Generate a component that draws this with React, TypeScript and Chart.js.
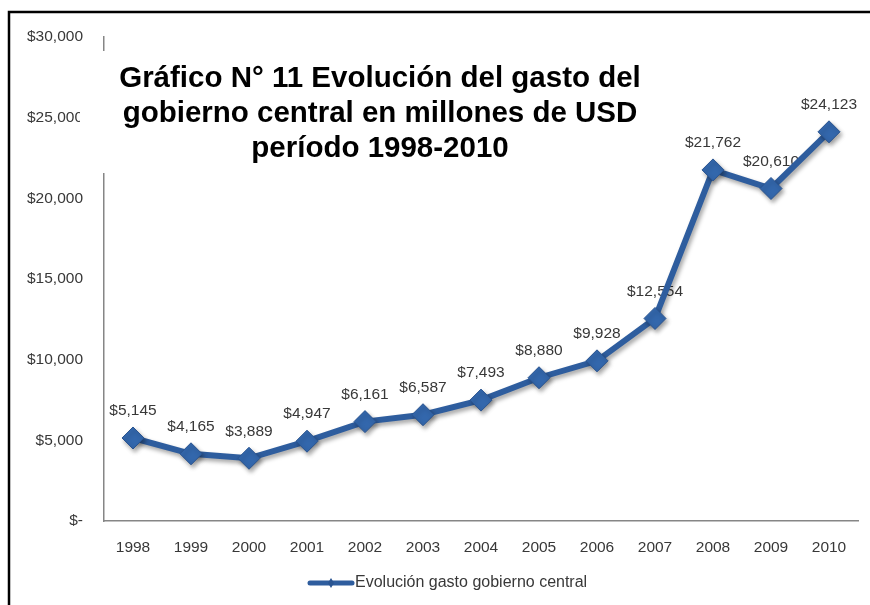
import React, { useEffect, useRef } from "react";
import { Chart, registerables } from "chart.js";

Chart.register(...registerables);

const years = ["1998", "1999", "2000", "2001", "2002", "2003", "2004", "2005", "2006", "2007", "2008", "2009", "2010"];
const gasto = [5145, 4165, 3889, 4947, 6161, 6587, 7493, 8880, 9928, 12554, 21762, 20610, 24123];
const seriesName = "Evolución gasto gobierno central";
const titleLines = ["Gráfico N° 11 Evolución del gasto del", "gobierno central en millones de USD", "período 1998-2010"];
const yMax = 30000;
const yStep = 5000;

const FONT = "'Liberation Sans', Arial, sans-serif";
const LINE = "#2E5D9E";
const TEXT = "#383838";

const fmt = (v: number) => (v === 0 ? "$-" : "$" + v.toLocaleString("en-US"));

export default function App() {
  const ref = useRef<HTMLCanvasElement | null>(null);

  useEffect(() => {
    if (!ref.current) return;

    const framePlugin = {
      id: "frame",
      beforeDraw(chart: any) {
        const ctx = chart.ctx;
        ctx.save();
        ctx.fillStyle = "#fff";
        ctx.fillRect(0, 0, chart.width, chart.height);
        ctx.strokeStyle = "#000";
        ctx.lineWidth = 2.5;
        ctx.beginPath();
        ctx.moveTo(9, 605);
        ctx.lineTo(9, 12);
        ctx.lineTo(870, 12);
        ctx.stroke();
        ctx.restore();
      },
    };

    const shadowPlugin = {
      id: "shadow",
      beforeDatasetDraw(chart: any) {
        const ctx = chart.ctx;
        ctx.save();
        ctx.shadowColor = "rgba(0,0,0,0.35)";
        ctx.shadowBlur = 4;
        ctx.shadowOffsetX = 2;
        ctx.shadowOffsetY = 3;
      },
      afterDatasetDraw(chart: any) {
        chart.ctx.restore();
      },
    };

    const labelPlugin = {
      id: "valueLabels",
      beforeDatasetsDraw(chart: any) {
        const ctx = chart.ctx;
        const meta = chart.getDatasetMeta(0);
        const data = chart.data.datasets[0].data as number[];
        ctx.save();
        ctx.font = `15.5px ${FONT}`;
        ctx.fillStyle = TEXT;
        ctx.textAlign = "center";
        ctx.textBaseline = "middle";
        meta.data.forEach((pt: any, i: number) => {
          ctx.fillText(fmt(data[i]), pt.x, pt.y - 27);
        });
        ctx.restore();
      },
    };

    const titleLegendPlugin = {
      id: "titleLegend",
      afterDraw(chart: any) {
        const ctx = chart.ctx;
        ctx.save();
        ctx.fillStyle = "#fff";
        ctx.fillRect(80, 51, 590, 122);
        ctx.fillStyle = "#000";
        ctx.font = `bold 29.5px ${FONT}`;
        ctx.textAlign = "center";
        ctx.textBaseline = "middle";
        titleLines.forEach((t, i) => ctx.fillText(t, 380, 79 + i * 35));
        const ly = 583;
        ctx.strokeStyle = LINE;
        ctx.lineWidth = 5;
        ctx.lineCap = "round";
        ctx.beginPath();
        ctx.moveTo(310, ly);
        ctx.lineTo(352, ly);
        ctx.stroke();
        ctx.fillStyle = "#2A5592";
        ctx.beginPath();
        ctx.moveTo(331, ly - 5);
        ctx.lineTo(334, ly);
        ctx.lineTo(331, ly + 5);
        ctx.lineTo(328, ly);
        ctx.closePath();
        ctx.fill();
        ctx.fillStyle = TEXT;
        ctx.font = `16px ${FONT}`;
        ctx.textAlign = "left";
        ctx.fillText(seriesName, 355, ly);
        ctx.restore();
      },
    };

    const chart = new Chart(ref.current, {
      type: "line",
      data: {
        labels: years,
        datasets: [
          {
            label: seriesName,
            data: gasto,
            borderColor: LINE,
            borderWidth: 6,
            backgroundColor: "#3366AA",
            pointStyle: "rectRot",
            pointRadius: 11,
            pointBackgroundColor: "#3367AC",
            pointBorderColor: "#2A5490",
            pointBorderWidth: 1,
            tension: 0,
            fill: false,
          },
        ],
      },
      options: {
        responsive: false,
        animation: false,
        layout: { padding: { top: 37, left: 0, right: 8, bottom: 0 } },
        plugins: {
          legend: { display: false },
          title: { display: false },
          tooltip: { enabled: false },
        },
        scales: {
          x: {
            offset: true,
            grid: { display: false, drawTicks: false },
            border: { display: true, color: "#868686", width: 1.5 },
            ticks: { color: TEXT, font: { family: FONT, size: 15.5 }, padding: 17, maxRotation: 0, autoSkip: false },
            afterFit: (s: any) => {
              s.height = 84;
            },
          },
          y: {
            min: 0,
            max: yMax,
            grid: { display: false, drawTicks: false },
            border: { display: true, color: "#868686", width: 1.5 },
            ticks: {
              stepSize: yStep,
              color: TEXT,
              font: { family: FONT, size: 15.5 },
              padding: 21,
              callback: (v: any) => fmt(Number(v)),
            },
            afterFit: (s: any) => {
              s.width = 104;
            },
          },
        },
      },
      plugins: [framePlugin, labelPlugin, shadowPlugin, titleLegendPlugin],
    });

    return () => chart.destroy();
  }, []);

  return (
    <div style={{ position: "absolute", left: 0, top: 0, width: 870, height: 605 }}>
      <canvas ref={ref} width={870} height={605} />
    </div>
  );
}
